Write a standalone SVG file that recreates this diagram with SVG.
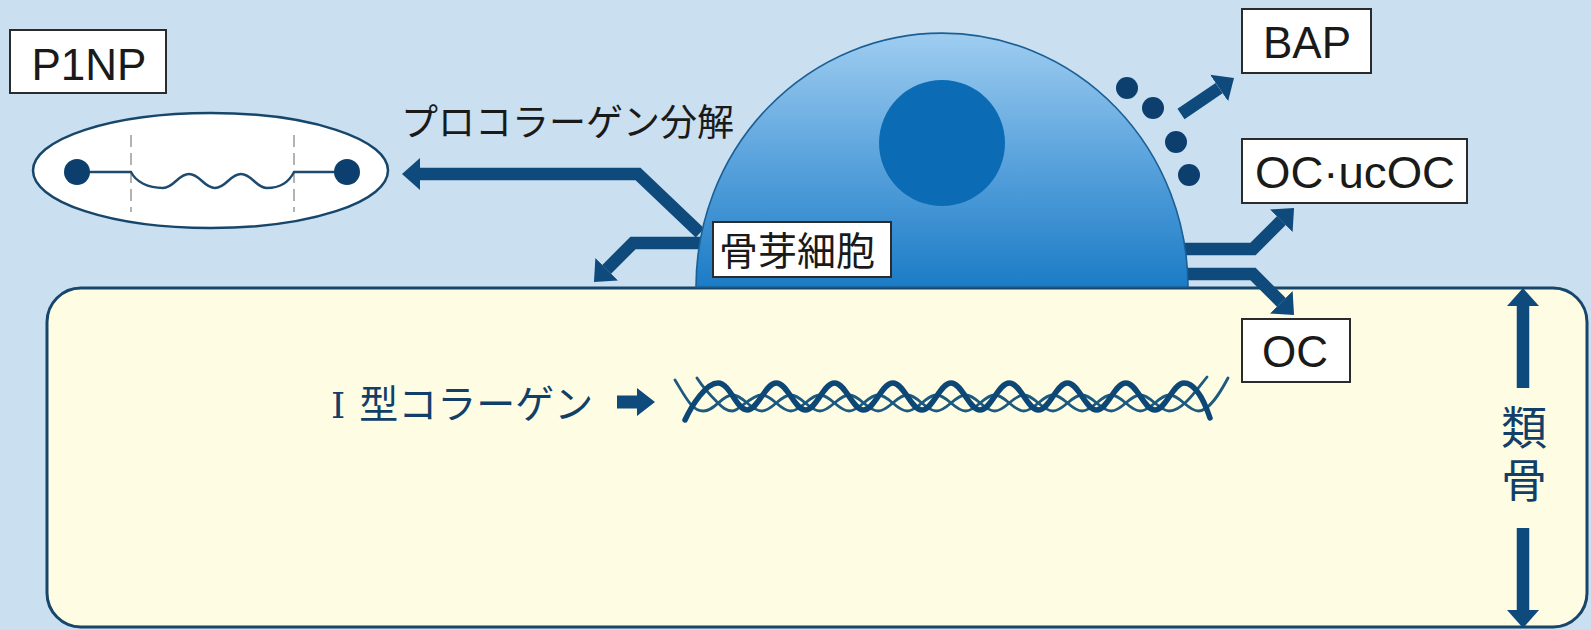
<svg xmlns="http://www.w3.org/2000/svg" width="1591" height="630" viewBox="0 0 1591 630">
  <defs>
    <style>
      .label-box { fill: #ffffff; stroke: #2b2b2b; stroke-width: 2; }
      .label-latin { font-family: "Liberation Sans", Arial, sans-serif; font-size: 44px; fill: #1a1a1a; text-anchor: middle; }
      .jp { font-family: "Noto Sans CJK JP", "Noto Sans", sans-serif; }
      .flow { fill: none; stroke: #0e4a7c; stroke-width: 12.5; stroke-linejoin: miter; stroke-linecap: butt; }
      .strand-thick { fill: none; stroke: #0d4775; stroke-width: 5.5; stroke-linecap: round; }
      .strand-thin { fill: none; stroke: #1d5a80; stroke-width: 2.8; stroke-linecap: round; }
      .navy-text { fill: #123f68; }
    </style>
    <marker id="head" markerUnits="userSpaceOnUse" viewBox="0 -17 20 34" markerWidth="20" markerHeight="34" refX="0" refY="0" orient="auto">
      <path d="M0,-16 L18,0 L0,16 Z" fill="#0e4a7c"/>
    </marker>
    <linearGradient id="cellFill" x1="0" y1="0" x2="0" y2="1">
      <stop offset="0" stop-color="#9fcdf0"/>
      <stop offset="0.5" stop-color="#5aa3dd"/>
      <stop offset="1" stop-color="#1b7cc6"/>
    </linearGradient>
  </defs>

  <!-- backdrop -->
  <rect x="0" y="0" width="1591" height="630" fill="#cadff0"/>

  <!-- osteoid layer -->
  <g id="osteoid">
    <rect x="47" y="288" width="1540" height="339" rx="34" ry="34" fill="#fefde4" stroke="#17466b" stroke-width="3"/>
  </g>

  <!-- flow arrows from the cell -->
  <g id="connectors">
    <path class="flow" d="M700,233 L638,174 L420,174" marker-end="url(#head)"/>
    <path class="flow" d="M705,243 L633,243 L606.7,269.3" marker-end="url(#head)"/>
    <path class="flow" d="M1181,114 L1219.1,88.1" marker-end="url(#head)"/>
    <path class="flow" d="M1168,249 L1253,249 L1281.3,220.7" marker-end="url(#head)"/>
    <path class="flow" d="M1168,274 L1253,274 L1281.3,302.3" marker-end="url(#head)"/>
    <polygon points="617,395.5 637,395.5 637,388 655,402 637,416 637,408.5 617,408.5" fill="#0e4a7c"/>
  </g>

  <!-- osteoblast -->
  <g id="osteoblast">
    <path d="M696,287 A246,254 0 0 1 1188,287 Z" fill="url(#cellFill)" stroke="#1a5f95" stroke-width="1.6"/>
    <circle cx="942" cy="143" r="63" fill="#0b6cb5"/>
    <rect class="label-box" x="713" y="222" width="178" height="55"/>
    <text class="jp" x="719" y="265" font-size="39" fill="#1a1a1a">骨芽細胞</text>
  </g>

  <!-- secreted granules -->
  <g id="granules" fill="#0d3f6e">
    <circle cx="1127" cy="88" r="11"/>
    <circle cx="1153" cy="108" r="11"/>
    <circle cx="1176" cy="142" r="11"/>
    <circle cx="1189" cy="175" r="11"/>
  </g>

  <!-- procollagen fragment -->
  <g id="p1np">
    <rect class="label-box" x="10" y="30" width="156" height="63"/>
    <text class="label-latin" x="89" y="80">P1NP</text>
    <ellipse cx="210.5" cy="170.5" rx="177.5" ry="57.5" fill="#ffffff" stroke="#17466b" stroke-width="2.5"/>
    <line x1="131" y1="135" x2="131" y2="212" stroke="#9a9a9a" stroke-width="1.5" stroke-dasharray="12,6"/>
    <line x1="294" y1="135" x2="294" y2="212" stroke="#9a9a9a" stroke-width="1.5" stroke-dasharray="12,6"/>
    <path d="M77,172 L131,172 C136,182 148,188 163,188 C174,188 178,174 189,174 C200,174 204,188 215,188 C226,188 230,174 241,174 C252,174 256,188 267,188 C282,188 290,180 294,172 L347,172" fill="none" stroke="#1e4a6e" stroke-width="2.4"/>
    <circle cx="77" cy="172" r="13" fill="#0d3f6e"/>
    <circle cx="347" cy="172" r="13" fill="#0d3f6e"/>
  </g>

  <g id="procollagen-label">
    <text class="jp" x="401" y="136" font-size="37" fill="#1a1a1a">プロコラーゲン分解</text>
  </g>

  <!-- marker labels -->
  <g id="bap">
    <rect class="label-box" x="1242" y="9" width="129" height="64"/>
    <text class="label-latin" x="1307" y="58">BAP</text>
  </g>
  <g id="oc-ucoc">
    <rect class="label-box" x="1242" y="139" width="225" height="64"/>
    <text class="label-latin" x="1255" y="188" style="text-anchor:start" textLength="200" lengthAdjust="spacingAndGlyphs">OC·ucOC</text>
  </g>
  <g id="oc">
    <rect class="label-box" x="1242" y="319" width="108" height="63"/>
    <text class="label-latin" x="1295" y="367">OC</text>
  </g>

  <!-- type I collagen fibre -->
  <g id="collagen">
    <text class="jp navy-text" x="319" y="418" font-size="39"><tspan font-family="'DejaVu Serif', 'Liberation Serif', serif" font-size="36" dx="12">Ⅰ</tspan><tspan dx="14">型コラーゲン</tspan></text>
    <path class="strand-thin" d="M675,380 C686,398 692,411 703.4,411 S721.8,395 732.6,395 S750.9,411 761.7,411 S780,395 790.8,395 S809.1,411 819.9,411 S838.3,395 849.1,395 S867.4,411 878.2,411 S896.5,395 907.3,395 S925.6,411 936.4,411 S954.8,395 965.6,395 S983.9,411 994.7,411 S1013,395 1023.8,395 S1042.1,411 1052.9,411 S1071.3,395 1082.1,395 S1100.4,411 1111.2,411 S1129.5,395 1140.3,395 S1158.6,411 1169.4,411 C1182,411 1195,392 1207,377"/>
    <path class="strand-thin" d="M697,378 C704,389 712,397 718,403 C722,407 726,411 732.6,411 S750.9,395 761.7,395 S780,411 790.8,411 S809.1,395 819.9,395 S838.3,411 849.1,411 S867.4,395 878.2,395 S896.5,411 907.3,411 S925.6,395 936.4,395 S954.8,411 965.6,411 S983.9,395 994.7,395 S1013,411 1023.8,411 S1042.1,395 1052.9,395 S1071.3,411 1082.1,411 S1100.4,395 1111.2,395 S1129.5,411 1140.3,411 S1158.6,395 1169.4,395 S1187.7,411 1198.5,411 C1209.3,411 1220,393 1228,378"/>
    <path class="strand-thick" d="M685,420 C692,405 706,383 718,383 S736.3,410 747.1,410 S765.4,383 776.3,383 S794.6,410 805.4,410 S823.7,383 834.5,383 S852.8,410 863.6,410 S881.9,383 892.8,383 S911.1,410 921.9,410 S940.2,383 951,383 S969.3,410 980.1,410 S998.4,383 1009.3,383 S1027.6,410 1038.4,410 S1056.7,383 1067.5,383 S1085.8,410 1096.6,410 S1114.9,383 1125.8,383 S1144.1,410 1154.9,410 S1173.2,383 1184,383 C1195,383 1204,400 1210,418"/>
  </g>

  <!-- osteoid thickness indicator -->
  <g id="osteoid-thickness">
    <path class="flow" d="M1523,388 L1523,306" marker-end="url(#head)"/>
    <path class="flow" d="M1523,528 L1523,610" marker-end="url(#head)"/>
    <text class="jp navy-text" x="1524" y="404" font-size="46" writing-mode="vertical-rl" letter-spacing="7">類骨</text>
  </g>
</svg>
